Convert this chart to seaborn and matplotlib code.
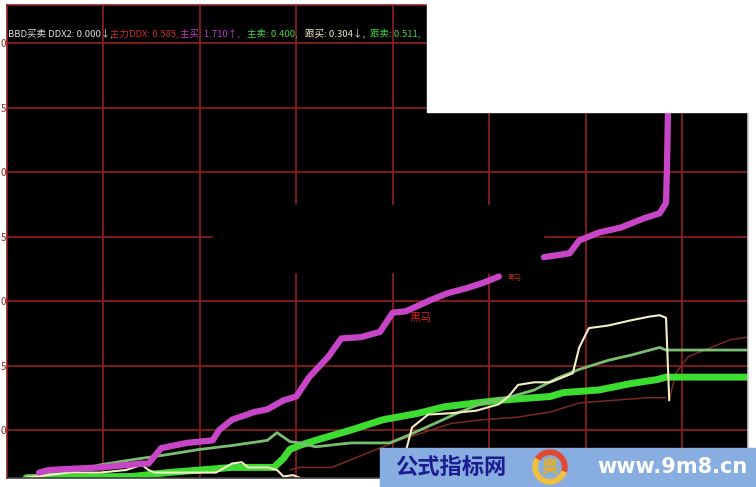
import pandas as pd
import numpy as np
import seaborn as sns
from matplotlib import pyplot as plt
from matplotlib.patches import Rectangle, Wedge

# 主买 (magenta), two pieces of the pasted screenshot
buy_main_t1 = [10, 13, 29, 42, 44, 48, 56, 64, 66, 70, 77, 81, 86, 90, 94, 100, 104, 110, 116, 120, 124, 132, 137, 143, 148, 153]
buy_main_v1 = [0.67, 0.69, 0.71, 0.74, 0.74, 0.86, 0.90, 0.92, 1.00, 1.08, 1.14, 1.16, 1.23, 1.26, 1.41, 1.57, 1.71, 1.72, 1.76, 1.91, 1.92, 2.01, 2.06, 2.10, 2.14, 2.19]
buy_main_t2 = [167, 175, 178, 184, 191, 198, 203, 205, 205.3, 205.6, 205.8]
buy_main_v2 = [2.34, 2.37, 2.47, 2.53, 2.57, 2.64, 2.68, 2.76, 3.04, 3.46, 3.70]

# 主卖 (grey green)
sell_main_t = [6, 19, 29, 39, 50, 60, 70, 81, 84, 88, 91, 96, 107, 119, 124, 133, 140, 148, 157, 164, 171, 178, 187, 194, 203, 205, 230.5]
sell_main_v = [0.64, 0.67, 0.73, 0.77, 0.81, 0.85, 0.88, 0.92, 0.98, 0.91, 0.90, 0.87, 0.90, 0.90, 0.95, 1.05, 1.13, 1.21, 1.26, 1.31, 1.40, 1.47, 1.54, 1.58, 1.64, 1.62, 1.62]

# 跟卖 (bright green, thick)
sell_follow_t = [6, 39, 50, 60, 70, 83, 86, 88, 91, 96, 107, 117, 128, 136, 146, 153, 169, 173, 184, 194, 202, 205, 230.5]
sell_follow_v = [0.63, 0.64, 0.67, 0.69, 0.71, 0.71, 0.78, 0.85, 0.88, 0.92, 1.00, 1.08, 1.13, 1.18, 1.21, 1.23, 1.26, 1.29, 1.31, 1.36, 1.39, 1.41, 1.41]

# 跟买 (cream)
buy_follow_t1 = [6, 19, 29, 37, 42, 44, 46, 55, 65, 70, 73, 75, 81, 84, 86, 89, 91]
buy_follow_v1 = [0.63, 0.67, 0.67, 0.69, 0.73, 0.69, 0.67, 0.67, 0.67, 0.74, 0.75, 0.71, 0.71, 0.69, 0.64, 0.65, 0.63]
buy_follow_t2 = [124, 126, 131, 138, 146, 153, 156, 159, 164, 169, 176, 178, 181, 187, 194, 200, 203, 205, 206]
buy_follow_v2 = [0.83, 1.02, 1.12, 1.13, 1.15, 1.20, 1.26, 1.35, 1.37, 1.37, 1.44, 1.64, 1.79, 1.81, 1.85, 1.88, 1.89, 1.87, 1.23]

# 主力DDX (dark red)
ddx_t1 = [88, 91, 101, 112, 122, 138, 148, 159, 169, 178, 199, 205]
ddx_v1 = [0.69, 0.71, 0.71, 0.82, 0.92, 1.05, 1.08, 1.10, 1.14, 1.21, 1.25, 1.25]
ddx_t2 = [206, 208, 212, 215, 219, 225, 230.5]
ddx_v2 = [1.23, 1.44, 1.57, 1.60, 1.64, 1.70, 1.72]

y_ticks = [1.0, 1.5, 2.0, 2.5, 3.0, 3.5, 4.0]
# only the last digit of the axis labels shows at the left edge
y_tick_labels = ['0', '5', '0', '5', '0', '5', '0']
x_ticks = [30, 60, 90, 120, 150, 180, 210]

header_labels = ['BBD买卖 DDX2: 0.000↓,', '主力DDX: 0.585,', '主买: 1.710↑,', '主卖: 0.400,', '跟买: 0.304↓,', '跟卖: 0.511,']
header_colors = ['#e0e0e0', '#c8302a', '#c040c8', '#48d848', '#f0ecc8', '#48d848']


def segments(*pieces):
  frames = []
  for k in range(0, len(pieces), 2):
    frames.append(pd.DataFrame({'t': pieces[k], 'v': pieces[k + 1], 'seg': k}))
  return pd.concat(frames, ignore_index=True)


sns.set_style('dark', {'axes.facecolor': 'black'})
plt.rcParams['font.family'] = ['Noto Sans CJK SC', 'DejaVu Sans']

fig = plt.figure(figsize=(7.56, 4.87), dpi=100, facecolor='white')
ax = fig.add_axes([7 / 756, 1 - 478 / 487, 741 / 756, 473 / 487])
ax.set_facecolor('black')

# grid
ax.set_xlim(0, 230.5)
ax.set_ylim(0.628, 4.295)
ax.set_xticks(x_ticks)
ax.set_yticks(y_ticks)
ax.set_yticklabels(y_tick_labels)
ax.set_xticklabels([])
ax.grid(True, color='#921f1f', lw=1.2)
ax.set_axisbelow(True)
ax.tick_params(axis='y', length=0, pad=0.5, labelsize=7, labelcolor='#a02020')
ax.tick_params(axis='x', length=0)
for s in ax.spines.values():
  s.set_color('#921f1f')
  s.set_linewidth(1.2)
ax.spines['bottom'].set_color('#404040')
ax.spines['right'].set_color('#cccccc')

# black piece pasted over the grid
ax.add_patch(Rectangle((64.2, 2.225), 102.6, 0.519, color='black', zorder=1))

sns.lineplot(data=segments(ddx_t1, ddx_v1, ddx_t2, ddx_v2), x='t', y='v', units='seg',
             estimator=None, sort=False, color='#7a2a22', lw=1.1, ax=ax)
sns.lineplot(data=segments(sell_follow_t, sell_follow_v), x='t', y='v', units='seg',
             estimator=None, sort=False, color='#3cdc30', lw=5, ax=ax)
sns.lineplot(data=segments(sell_main_t, sell_main_v), x='t', y='v', units='seg',
             estimator=None, sort=False, color='#78c070', lw=2, ax=ax)
sns.lineplot(data=segments(buy_follow_t1, buy_follow_v1, buy_follow_t2, buy_follow_v2), x='t', y='v', units='seg',
             estimator=None, sort=False, color='#f4f0c4', lw=1.5, ax=ax)
sns.lineplot(data=segments(buy_main_t1, buy_main_v1, buy_main_t2, buy_main_v2), x='t', y='v', units='seg',
             estimator=None, sort=False, color='#c845c8', lw=4.5, ax=ax)
ax.set_xlabel('')
ax.set_ylabel('')

ax.text(128.5, 1.87, '黑马', color='#d02020', fontsize=8, ha='center', va='center', zorder=5)
ax.text(158, 2.18, '黑马', color='#b03020', fontsize=5, ha='center', va='center', zorder=5)

# header
header_x = [8, 110, 180, 247, 305, 370]
for lab, col, px in zip(header_labels, header_colors, header_x):
  fig.text(px / 756, 1 - 33 / 487, lab, color=col, fontsize=6.8, va='center', ha='left')

# white area at top right of the pasted screenshot
fig.add_artist(Rectangle((427 / 756, 1 - 112 / 487), 1, 1, transform=fig.transFigure,
                         color='white', zorder=10))

# watermark strip
fig.add_artist(Rectangle((380 / 756, 0), 376 / 756, 39 / 487, transform=fig.transFigure,
                         color='#88ade0', zorder=11))
fig.text(451 / 756, 20 / 487, '公式指标网', color='#1c1c90', fontsize=16, fontweight='bold',
         ha='center', va='center', zorder=12)
fig.add_artist(Wedge((5.50, 0.20), 0.17, -20, 150, width=0.045, color='#e04a30',
                     transform=fig.dpi_scale_trans, zorder=12))
fig.add_artist(Wedge((5.50, 0.20), 0.17, 150, 340, width=0.045, color='#f0c040',
                     transform=fig.dpi_scale_trans, zorder=12))
fig.text(550 / 756, 20 / 487, '奥', color='#e8b020', fontsize=12, fontweight='bold',
         ha='center', va='center', zorder=13)
fig.text(672 / 756, 20 / 487, 'www.9m8.cn', color='white', fontsize=15, fontweight='bold',
         family='DejaVu Sans', ha='center', va='center', zorder=12)

fig.savefig('out.png', dpi=100, facecolor='white')
